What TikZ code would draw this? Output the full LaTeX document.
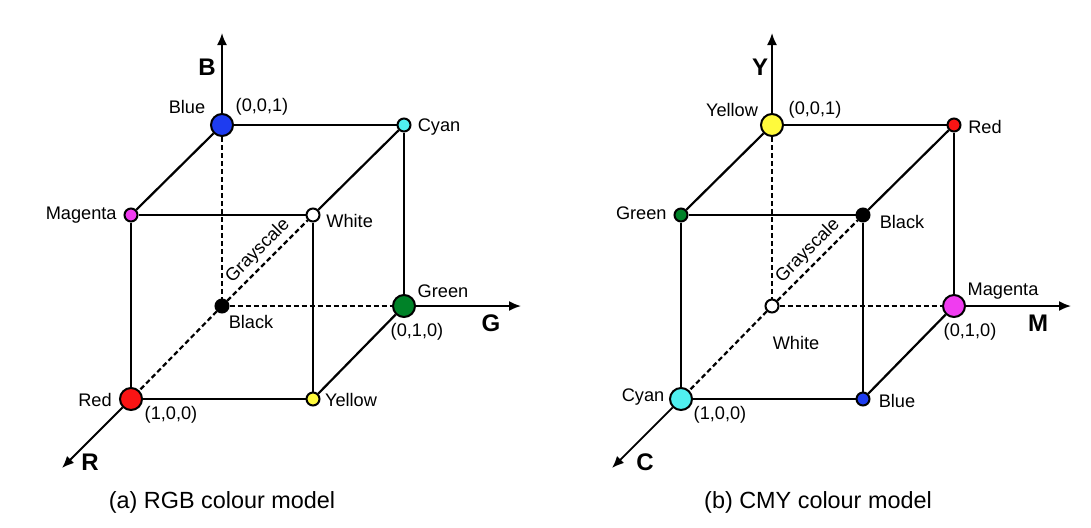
\documentclass[tikz,border=0pt]{standalone}
\usepackage{fontspec}
\setmainfont{Liberation Sans}
\usetikzlibrary{arrows.meta}
\definecolor{cBlue}{RGB}{30,60,240}
\definecolor{cCyan}{RGB}{80,240,240}
\definecolor{cMagenta}{RGB}{240,60,240}
\definecolor{cGreen}{RGB}{0,130,40}
\definecolor{cRed}{RGB}{250,20,20}
\definecolor{cYellow}{RGB}{255,250,60}
\begin{document}
\begin{tikzpicture}[x=0.5pt,y=-0.5pt,
  edge/.style={line width=1.1pt},
  dashedge/.style={line width=1.1pt,dash pattern=on 2.5pt off 1.5pt},
  axis/.style={line width=0.9pt,-{Latex[length=6pt,width=5pt]}},
  big/.style={circle,draw,line width=1pt,minimum size=11pt,inner sep=0pt},
  small/.style={circle,draw,line width=1pt,minimum size=6.5pt,inner sep=0pt},
  lbl/.style={font=\fontsize{9.1}{10}\selectfont,inner sep=0pt},
  axlbl/.style={font=\fontsize{12}{14}\selectfont\bfseries,inner sep=0pt},
  captext/.style={font=\fontsize{11.7}{14}\selectfont,inner sep=0pt}]
\useasboundingbox (0,0) rectangle (1091,527);
% ---------- RGB cube ----------
\node[big,fill=cBlue] (a-tbl) at (222,125) {};
\node[small,fill=cCyan] (a-tbr) at (404,125) {};
\node[small,fill=cMagenta] (a-tfl) at (131,215) {};
\node[small,fill=white] (a-tfr) at (313,215) {};
\node[small,fill=black] (a-bbl) at (222,306) {};
\node[big,fill=cGreen] (a-bbr) at (404,306) {};
\node[big,fill=cRed] (a-bfl) at (131,399) {};
\node[small,fill=cYellow] (a-bfr) at (313,399) {};
\coordinate (a-zend) at (222,33);
\coordinate (a-yend) at (521,306);
\coordinate (a-xend) at (62,468);
\draw[edge] (a-tbl)--(a-tbr);
\draw[edge] (a-tbl)--(a-tfl);
\draw[edge] (a-tbr)--(a-tfr);
\draw[edge] (a-tbr)--(a-bbr);
\draw[edge] (a-tfl)--(a-tfr);
\draw[edge] (a-tfl)--(a-bfl);
\draw[edge] (a-tfr)--(a-bfr);
\draw[edge] (a-bfl)--(a-bfr);
\draw[edge] (a-bfr)--(a-bbr);
\draw[dashedge] (a-tbl)--(a-bbl);
\draw[dashedge] (a-bbl)--(a-bbr);
\draw[dashedge] (a-bbl)--(a-bfl);
\draw[dashedge] (a-bbl)--(a-tfr) node[lbl,pos=0.5,above=2pt,sloped] (a-gray) {Grayscale};
\draw[axis] (a-tbl)--(a-zend);
\draw[axis] (a-bbr)--(a-yend);
\draw[axis] (a-bfl)--(a-xend);
\node[lbl] (a-l1) at (187,107) {Blue};
\node[lbl] (a-l2) at (262,107) {(0,0,1)};
\node[lbl] (a-l3) at (439,127) {Cyan};
\node[lbl,anchor=east] (a-l4) at (117,215) {Magenta};
\node[lbl,anchor=west] (a-l5) at (326,221) {White};
\node[lbl] (a-l6) at (443,291) {Green};
\node[lbl] (a-l7) at (417,332) {(0,1,0)};
\node[lbl] (a-l8) at (251,322) {Black};
\node[lbl] (a-l9) at (95,400) {Red};
\node[lbl] (a-l10) at (171,415) {(1,0,0)};
\node[lbl] (a-l11) at (351,400) {Yellow};
\node[axlbl] (a-B) at (207,67) {B};
\node[axlbl] (a-G) at (491,323) {G};
\node[axlbl] (a-R) at (90,462) {R};
\node[captext] (a-cap) at (222,502) {(a) RGB colour model};
% ---------- CMY cube ----------
\node[big,fill=cYellow] (b-tbl) at (772,125) {};
\node[small,fill=cRed] (b-tbr) at (954,125) {};
\node[small,fill=cGreen] (b-tfl) at (681,215) {};
\node[small,fill=black] (b-tfr) at (863,215) {};
\node[small,fill=white] (b-bbl) at (772,306) {};
\node[big,fill=cMagenta] (b-bbr) at (954,306) {};
\node[big,fill=cCyan] (b-bfl) at (681,399) {};
\node[small,fill=cBlue] (b-bfr) at (863,399) {};
\coordinate (b-zend) at (772,33);
\coordinate (b-yend) at (1071,306);
\coordinate (b-xend) at (612,468);
\draw[edge] (b-tbl)--(b-tbr);
\draw[edge] (b-tbl)--(b-tfl);
\draw[edge] (b-tbr)--(b-tfr);
\draw[edge] (b-tbr)--(b-bbr);
\draw[edge] (b-tfl)--(b-tfr);
\draw[edge] (b-tfl)--(b-bfl);
\draw[edge] (b-tfr)--(b-bfr);
\draw[edge] (b-bfl)--(b-bfr);
\draw[edge] (b-bfr)--(b-bbr);
\draw[dashedge] (b-tbl)--(b-bbl);
\draw[dashedge] (b-bbl)--(b-bbr);
\draw[dashedge] (b-bbl)--(b-bfl);
\draw[dashedge] (b-bbl)--(b-tfr) node[lbl,pos=0.5,above=2pt,sloped] (b-gray) {Grayscale};
\draw[axis] (b-tbl)--(b-zend);
\draw[axis] (b-bbr)--(b-yend);
\draw[axis] (b-bfl)--(b-xend);
\node[lbl] (b-l1) at (732,110) {Yellow};
\node[lbl] (b-l2) at (815,110) {(0,0,1)};
\node[lbl] (b-l3) at (985,127) {Red};
\node[lbl,anchor=east] (b-l4) at (667,213) {Green};
\node[lbl] (b-l5) at (902,222) {Black};
\node[lbl] (b-l6) at (1003,291) {Magenta};
\node[lbl] (b-l7) at (970,332) {(0,1,0)};
\node[lbl] (b-l8) at (796,343) {White};
\node[lbl] (b-l9) at (643,397) {Cyan};
\node[lbl] (b-l10) at (720,415) {(1,0,0)};
\node[lbl] (b-l11) at (897,401) {Blue};
\node[axlbl] (b-Y) at (760,67) {Y};
\node[axlbl] (b-M) at (1038,323) {M};
\node[axlbl] (b-C) at (645,462) {C};
\node[captext] (b-cap) at (818,502) {(b) CMY colour model};
\end{tikzpicture}
\end{document}
